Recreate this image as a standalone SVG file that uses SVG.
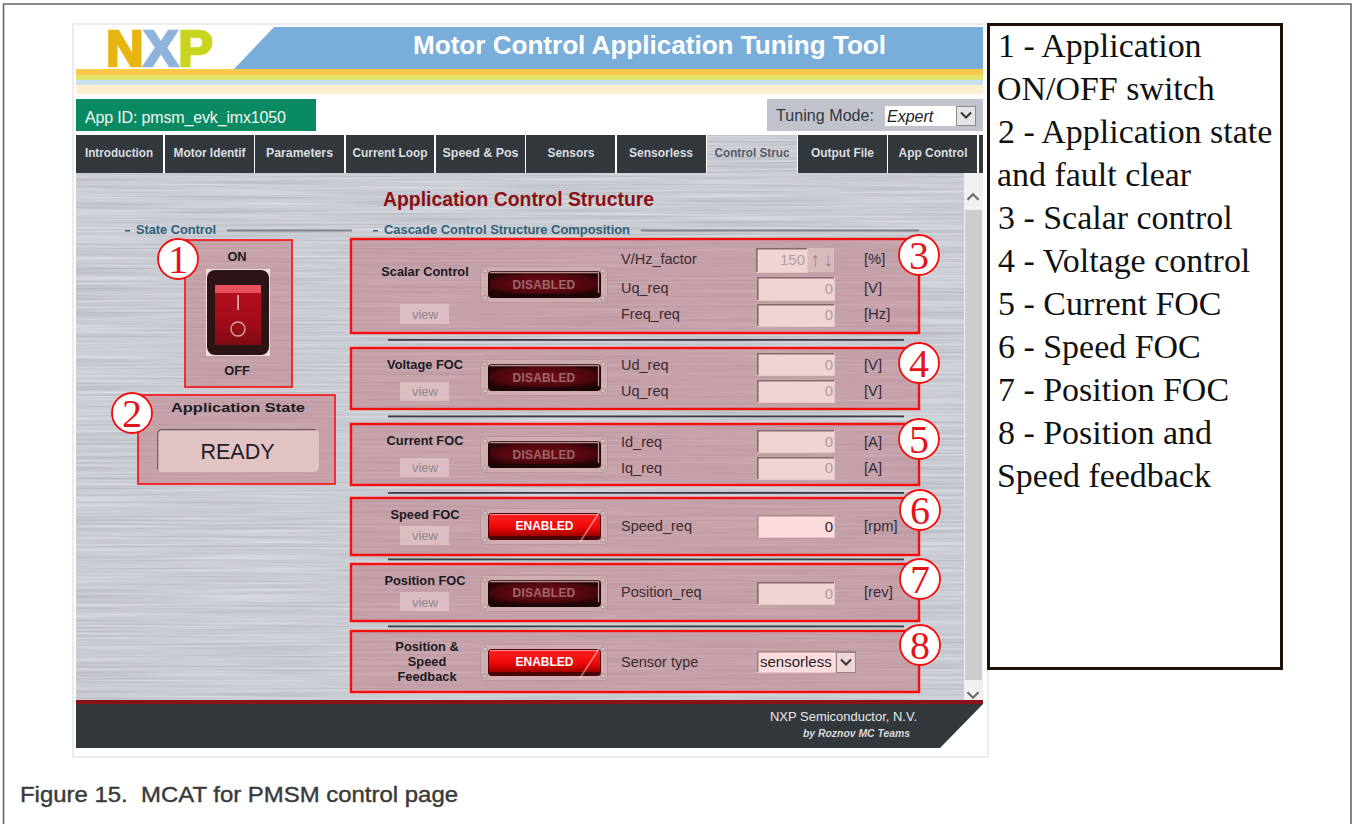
<svg xmlns="http://www.w3.org/2000/svg" width="1352" height="824" viewBox="0 0 1352 824">
<style>
text{font-family:"Liberation Sans",Arial,sans-serif}
.tab{font-size:12px;font-weight:bold;fill:#dcdee0;text-anchor:middle}
.sec{font-size:12px;font-weight:bold;fill:#2f6079}
.rule{fill:#7f8286}
.sep{fill:#3c3c40}
.box{fill:#c07680;fill-opacity:.5;stroke:#f80d0d;stroke-width:2.400}
.thin{stroke-width:1.600}
.badge{fill:#fff;stroke:#f40c0c;stroke-width:1.800}
.num{font-family:"Liberation Serif","Times New Roman",serif;font-size:40px;fill:#e5141a;text-anchor:middle}
.name{font-size:12.800px;font-weight:bold;fill:#1d1a22;text-anchor:middle}
.viewb{fill:#e3c6c8;fill-opacity:.75}
.view{font-size:13px;fill:#94858a;text-anchor:middle}
.field{font-size:14.500px;fill:#3f2a30}
.unit{font-size:14.800px;fill:#332b3a}
.inp{fill:#f0d4d4;stroke:#e8c6c6;stroke-width:1}
.edge{fill:none;stroke:#85696c;stroke-width:1.600}
.val{font-size:15px;fill:#b49c9f;text-anchor:end}
.off{font-size:12px;font-weight:bold;fill:#96686c;text-anchor:middle;letter-spacing:.2px}
.on{font-size:12px;font-weight:bold;fill:#fff;text-anchor:middle}
.legend{font-family:"Liberation Serif","Times New Roman",serif;font-size:33.950px;fill:#111}
</style>
<defs>
<filter id="brushed" x="0" y="0" width="1" height="1" color-interpolation-filters="sRGB">
<feTurbulence type="fractalNoise" baseFrequency="0.006 0.5" numOctaves="2" seed="4"/>
<feColorMatrix values="0.2 0 0 0 0.69  0.2 0 0 0 0.70  0.2 0 0 0 0.725  0 0 0 0 1"/>
</filter>
<radialGradient id="gOff" cx=".5" cy=".5" r=".6"><stop offset="0" stop-color="#7a0a14"/><stop offset=".75" stop-color="#4e070e"/><stop offset="1" stop-color="#260406"/></radialGradient>
<linearGradient id="gOn" x1="0" y1="0" x2="0" y2="1"><stop offset="0" stop-color="#ff2020"/><stop offset=".6" stop-color="#ee0808"/><stop offset="1" stop-color="#a00000"/></linearGradient>
<linearGradient id="gRock" x1="0" y1="0" x2="0" y2="1"><stop offset="0" stop-color="#b50f20"/><stop offset=".6" stop-color="#a40c1a"/><stop offset="1" stop-color="#7e0a12"/></linearGradient>
<g id="plate">
<rect x=".5" y=".5" width="127" height="36" rx="4" fill="#d8b6b8" fill-opacity=".55" stroke="#a88a8e" stroke-opacity=".55"/>
<g fill="#dcc6c8" stroke="#8e7478" stroke-width=".7"><circle cx="5" cy="5" r="2.2"/><circle cx="123" cy="5" r="2.2"/><circle cx="5" cy="32" r="2.2"/><circle cx="123" cy="32" r="2.2"/></g>
</g>
<g id="btnOff">
<use href="#plate"/>
<rect x="8" y="5" width="113" height="27" rx="4" fill="#1e0507"/>
<rect x="10" y="7" width="108" height="21" rx="2" fill="url(#gOff)"/>
<path d="M10 6.500H118.500V27" fill="none" stroke="#b98f92" stroke-width="1.300"/>
</g>
<g id="btnOn">
<use href="#plate"/>
<rect x="8" y="5" width="113" height="27" rx="4" fill="#4a0507"/>
<rect x="9" y="6" width="111" height="22" rx="3" fill="url(#gOn)"/>
<path d="M10 6.500H118" fill="none" stroke="#ff9090" stroke-width="1"/>
<path d="M119 5L100 34" fill="none" stroke="#fff" stroke-opacity=".45" stroke-width="1.600"/>
</g>
<path id="chev" d="M-5 2.500L0 -2.500L5 2.500" fill="none" stroke="#333" stroke-width="2"/>
</defs>

<rect width="1352" height="824" fill="#fff"/>
<path id="page-frame" d="M3.500 824V4H1351V824" fill="none" stroke="#666" stroke-width="1.600"/>

<g id="screenshot">
<rect x="73" y="24" width="915" height="733" fill="#fff" stroke="#ececec" stroke-width="2"/>
</g>

<g id="header">
<rect x="76" y="27" width="907" height="42" fill="#fff"/>
<polygon points="234,69 274,27 983,27 983,69" fill="#7aaeda"/>
<rect x="76" y="69" width="907" height="6" fill="#fcc84a"/>
<rect x="76" y="75" width="907" height="5" fill="#e2e36c"/>
<rect x="76" y="80" width="907" height="5" fill="#c9e0ef"/>
<rect x="76" y="85" width="907" height="9" fill="#fdefcf"/>
<text x="649.500" y="54" font-size="25" font-weight="bold" fill="#fff" text-anchor="middle" textLength="473" lengthAdjust="spacingAndGlyphs">Motor Control Application Tuning Tool</text>
<text id="logo" x="106" y="66" font-size="50" font-weight="bold" stroke-width="2.500" textLength="107" lengthAdjust="spacingAndGlyphs"><tspan fill="#e8b510" stroke="#e8b510">N</tspan><tspan fill="#8fb3dd" stroke="#8fb3dd">X</tspan><tspan fill="#c9d41e" stroke="#c9d41e">P</tspan></text>
</g>

<g id="app-id">
<rect x="76" y="99" width="240" height="32" fill="#0a8a62"/>
<text x="85" y="123" font-size="16" fill="#f2f7f5" textLength="201" lengthAdjust="spacing">App ID: pmsm_evk_imx1050</text>
</g>

<g id="tuning-mode">
<rect x="767" y="99" width="216" height="32" fill="#c0c3cb"/>
<text x="776" y="121" font-size="16" fill="#33363c" textLength="98">Tuning Mode:</text>
<rect x="885" y="106" width="71" height="20" fill="#fff"/>
<text x="887" y="122" font-size="16" font-style="italic" fill="#222">Expert</text>
<rect x="956.500" y="106.500" width="19" height="19" fill="#e4e4e6" stroke="#8c8c90"/>
<use href="#chev" transform="translate(966,115) scale(1,-1)"/>
</g>

<g id="tabs">
<rect x="76" y="135" width="907" height="38" fill="#fff"/>
<g fill="#33383d">
<rect x="76" y="135" width="87" height="38"/><rect x="165" y="135" width="89" height="38"/><rect x="255" y="135" width="89" height="38"/><rect x="346" y="135" width="88" height="38"/><rect x="436" y="135" width="89" height="38"/><rect x="526" y="135" width="89" height="38"/><rect x="617" y="135" width="89" height="38"/><rect x="798" y="135" width="89" height="38"/><rect x="888" y="135" width="89" height="38"/><rect x="979" y="135" width="4" height="38"/>
</g>
<text class="tab" x="119" y="157" textLength="68" lengthAdjust="spacingAndGlyphs">Introduction</text>
<text class="tab" x="209.500" y="157" textLength="72" lengthAdjust="spacingAndGlyphs">Motor Identif</text>
<text class="tab" x="299.500" y="157" textLength="67" lengthAdjust="spacingAndGlyphs">Parameters</text>
<text class="tab" x="390" y="157" textLength="75" lengthAdjust="spacingAndGlyphs">Current Loop</text>
<text class="tab" x="480.500" y="157" textLength="76" lengthAdjust="spacingAndGlyphs">Speed &amp; Pos</text>
<text class="tab" x="571" y="157" textLength="47" lengthAdjust="spacingAndGlyphs">Sensors</text>
<text class="tab" x="661" y="157" textLength="64" lengthAdjust="spacingAndGlyphs">Sensorless</text>
<text class="tab" x="842.500" y="157" textLength="63" lengthAdjust="spacingAndGlyphs">Output File</text>
<text class="tab" x="933" y="157" textLength="69" lengthAdjust="spacingAndGlyphs">App Control</text>
</g>

<g id="panel">
<rect x="76" y="173" width="888" height="527" filter="url(#brushed)"/>
<rect x="707" y="135" width="90" height="38" filter="url(#brushed)"/>
<text class="tab" x="752" y="157" style="fill:#555c64" textLength="75" lengthAdjust="spacingAndGlyphs">Control Struc</text>
<rect x="964" y="173" width="19" height="527" fill="#f0f0f0"/>
<rect x="965" y="210" width="17" height="470" fill="#cdcdcd"/>
<use href="#chev" transform="translate(973,197) scale(1.1)" opacity=".7"/>
<use href="#chev" transform="translate(973,695) scale(1.1,-1.1)" opacity=".7"/>
<text x="518.500" y="206" font-size="20" font-weight="bold" fill="#8a0f14" text-anchor="middle" textLength="271" lengthAdjust="spacingAndGlyphs">Application Control Structure</text>
<rect class="sec" x="125" y="230" width="5" height="1.500"/>
<text class="sec" x="136" y="234" textLength="80" lengthAdjust="spacingAndGlyphs">State Control</text>
<rect class="rule" x="227" y="229.500" width="125" height="2"/>
<rect class="sec" x="373" y="230" width="5" height="1.500"/>
<text class="sec" x="384" y="234" textLength="246" lengthAdjust="spacingAndGlyphs">Cascade Control Structure Composition</text>
<rect class="rule" x="641" y="229.500" width="278" height="2"/>
<rect class="sep" x="388" y="339" width="516" height="1.800"/>
<rect class="sep" x="388" y="415.500" width="516" height="1.800"/>
<rect class="sep" x="388" y="492" width="516" height="1.800"/>
<rect class="sep" x="388" y="558.500" width="516" height="1.800"/>
<rect class="sep" x="388" y="625.500" width="516" height="1.800"/>
</g>

<g id="node-1">
<rect class="box thin" x="185" y="240" width="107" height="147"/>
<text class="name" x="237" y="261">ON</text>
<rect x="206" y="269" width="64" height="87" fill="#f2dcdc"/>
<rect x="207" y="270" width="62" height="85" rx="8" fill="#2c1315"/>
<rect x="215" y="285" width="46" height="60" fill="url(#gRock)"/>
<rect x="215" y="285" width="46" height="8" fill="#e7505f"/>
<rect x="237.200" y="295" width="1.800" height="15" fill="#dba3ab"/>
<circle cx="238" cy="329" r="7" fill="none" stroke="#dba3ab" stroke-width="1.400"/>
<text class="name" x="237" y="375">OFF</text>
<circle class="badge" cx="178" cy="259" r="20"/><text class="num" x="178" y="273">1</text>
</g>

<g id="node-2">
<rect class="box thin" x="138" y="395" width="197" height="89"/>
<text class="name" x="238" y="412" textLength="134" lengthAdjust="spacingAndGlyphs">Application State</text>
<rect x="157" y="429" width="162" height="43" rx="5" fill="#e2c3c3"/>
<path d="M157.700 470V434Q157.700 429.700 162 429.700H316" fill="none" stroke="#6c5a5c" stroke-width="1.200"/>
<text x="237.500" y="459" font-size="21.500" fill="#1e1c28" text-anchor="middle">READY</text>
<circle class="badge" cx="132" cy="413" r="20"/><text class="num" x="132" y="427">2</text>
</g>

<g id="node-3">
<rect class="box" x="351" y="239" width="568" height="94"/>
<text class="name" x="425" y="276">Scalar Control</text>
<rect class="viewb" x="400" y="304" width="49" height="20"/><text class="view" x="425" y="319">view</text>
<use href="#btnOff" x="480" y="266"/>
<text class="off" x="544" y="289">DISABLED</text>
<text class="field" x="621" y="264">V/Hz_factor</text>
<text class="field" x="621" y="293">Uq_req</text>
<text class="field" x="621" y="319">Freq_req</text>
<rect x="807" y="248" width="27" height="24" fill="#dcc0c2" fill-opacity=".8"/>
<rect class="inp" x="756.500" y="248.500" width="51" height="24"/><path class="edge" d="M756.800 272V248.800H807"/>
<text x="815" y="266" font-size="20" fill="#a08a8c" text-anchor="middle">↑</text><text x="828" y="266" font-size="20" fill="#a08a8c" text-anchor="middle">↓</text>
<text class="val" x="805" y="265">150</text>
<rect class="inp" x="757.500" y="277.500" width="77" height="23"/><path class="edge" d="M757.800 300V277.800H834"/>
<text class="val" x="833" y="294">0</text>
<rect class="inp" x="757.500" y="304.500" width="77" height="22"/><path class="edge" d="M757.800 326V304.800H834"/>
<text class="val" x="833" y="320">0</text>
<text class="unit" x="864" y="264">[%]</text><text class="unit" x="864" y="293">[V]</text><text class="unit" x="864" y="319">[Hz]</text>
<circle class="badge" cx="919" cy="255" r="20"/><text class="num" x="919" y="269">3</text>
</g>

<g id="node-4">
<rect class="box" x="351" y="348" width="568" height="61"/>
<text class="name" x="425" y="369">Voltage FOC</text>
<rect class="viewb" x="400" y="382" width="49" height="19"/><text class="view" x="425" y="396">view</text>
<use href="#btnOff" x="480" y="359"/>
<text class="off" x="544" y="382">DISABLED</text>
<text class="field" x="621" y="370">Ud_req</text>
<text class="field" x="621" y="396">Uq_req</text>
<rect class="inp" x="757.500" y="353.500" width="77" height="22"/><path class="edge" d="M757.800 375V353.800H834"/>
<text class="val" x="833" y="370">0</text>
<rect class="inp" x="757.500" y="380.500" width="77" height="22"/><path class="edge" d="M757.800 402V380.800H834"/>
<text class="val" x="833" y="396">0</text>
<text class="unit" x="864" y="370">[V]</text><text class="unit" x="864" y="396">[V]</text>
<circle class="badge" cx="919" cy="363" r="20"/><text class="num" x="919" y="377">4</text>
</g>

<g id="node-5">
<rect class="box" x="351" y="424" width="568" height="61"/>
<text class="name" x="425" y="445">Current FOC</text>
<rect class="viewb" x="400" y="458" width="49" height="19"/><text class="view" x="425" y="472">view</text>
<use href="#btnOff" x="480" y="436"/>
<text class="off" x="544" y="459">DISABLED</text>
<text class="field" x="621" y="447">Id_req</text>
<text class="field" x="621" y="473">Iq_req</text>
<rect class="inp" x="757.500" y="430.500" width="77" height="22"/><path class="edge" d="M757.800 452V430.800H834"/>
<text class="val" x="833" y="447">0</text>
<rect class="inp" x="757.500" y="457.500" width="77" height="22"/><path class="edge" d="M757.800 479V457.800H834"/>
<text class="val" x="833" y="473">0</text>
<text class="unit" x="864" y="447">[A]</text><text class="unit" x="864" y="473">[A]</text>
<circle class="badge" cx="919" cy="439" r="20"/><text class="num" x="919" y="453">5</text>
</g>

<g id="node-6">
<rect class="box" x="351" y="498" width="568" height="57"/>
<text class="name" x="425" y="519">Speed FOC</text>
<rect class="viewb" x="400" y="526" width="49" height="19"/><text class="view" x="425" y="540">view</text>
<use href="#btnOn" x="480" y="508"/>
<text class="on" x="544.500" y="530">ENABLED</text>
<text class="field" x="621" y="531">Speed_req</text>
<rect class="inp" x="757.500" y="515.500" width="77" height="22" style="fill:#fcdcdc"/><path class="edge" d="M757.800 537V515.800H834" style="stroke:#a8888a"/>
<text class="val" x="833" y="532" style="fill:#2a2428">0</text>
<text class="unit" x="864" y="531">[rpm]</text>
<circle class="badge" cx="920" cy="510" r="20"/><text class="num" x="920" y="524">6</text>
</g>

<g id="node-7">
<rect class="box" x="351" y="564" width="568" height="57"/>
<text class="name" x="425" y="585">Position FOC</text>
<rect class="viewb" x="400" y="592" width="49" height="19"/><text class="view" x="425" y="607">view</text>
<use href="#btnOff" x="480" y="575"/>
<text class="off" x="544" y="597">DISABLED</text>
<text class="field" x="621" y="597">Position_req</text>
<rect class="inp" x="757.500" y="582.500" width="77" height="22"/><path class="edge" d="M757.800 604V582.800H834"/>
<text class="val" x="833" y="599">0</text>
<text class="unit" x="864" y="597">[rev]</text>
<circle class="badge" cx="920" cy="579" r="20"/><text class="num" x="920" y="593">7</text>
</g>

<g id="node-8">
<rect class="box" x="351" y="631" width="568" height="61"/>
<text class="name" x="427" y="651">Position &amp;</text>
<text class="name" x="427" y="666">Speed</text>
<text class="name" x="427" y="681">Feedback</text>
<use href="#btnOn" x="480" y="644"/>
<text class="on" x="544.500" y="666">ENABLED</text>
<text class="field" x="621" y="667">Sensor type</text>
<rect class="inp" x="757.500" y="651.500" width="78" height="21" style="fill:#fcdcdc"/><path class="edge" d="M757.800 672V651.800H856" style="stroke:#9c8486"/>
<text x="760" y="667" font-size="15" fill="#26242a">sensorless</text>
<rect x="836.500" y="652.500" width="19" height="20" fill="#efd6d6" stroke="#9c8486"/>
<use href="#chev" transform="translate(846,662) scale(1,-1)"/>
<circle class="badge" cx="920" cy="645" r="20"/><text class="num" x="920" y="659">8</text>
</g>

<g id="footer">
<rect x="76" y="700" width="907" height="4" fill="#8a1218"/>
<polygon points="76,704 983,704 940,748 76,748" fill="#33383d"/>
<text x="770" y="721" font-size="12" fill="#e8e8e8" textLength="147" lengthAdjust="spacingAndGlyphs">NXP Semiconductor, N.V.</text>
<text x="803" y="737" font-size="10" font-weight="bold" font-style="italic" fill="#d8dadc" textLength="107" lengthAdjust="spacingAndGlyphs">by Roznov MC Teams</text>
</g>

<g id="legend">
<rect x="988.500" y="24.500" width="293" height="644" fill="#fff" stroke="#1e1008" stroke-width="3"/>
<text class="legend" x="998" y="57">1 - Application</text>
<text class="legend" x="997" y="100">ON/OFF switch</text>
<text class="legend" x="998" y="143">2 - Application state</text>
<text class="legend" x="997" y="186">and fault clear</text>
<text class="legend" x="998" y="229">3 - Scalar control</text>
<text class="legend" x="998" y="272">4 - Voltage control</text>
<text class="legend" x="998" y="315">5 - Current FOC</text>
<text class="legend" x="998" y="358">6 - Speed FOC</text>
<text class="legend" x="998" y="401">7 - Position FOC</text>
<text class="legend" x="998" y="444">8 - Position and</text>
<text class="legend" x="997" y="487">Speed feedback</text>
</g>

<text id="caption" x="20" y="802" font-size="22" fill="#3a3a3a" stroke="#3a3a3a" stroke-width=".4" textLength="438" lengthAdjust="spacingAndGlyphs">Figure 15.&#160; MCAT for PMSM control page</text>
</svg>
